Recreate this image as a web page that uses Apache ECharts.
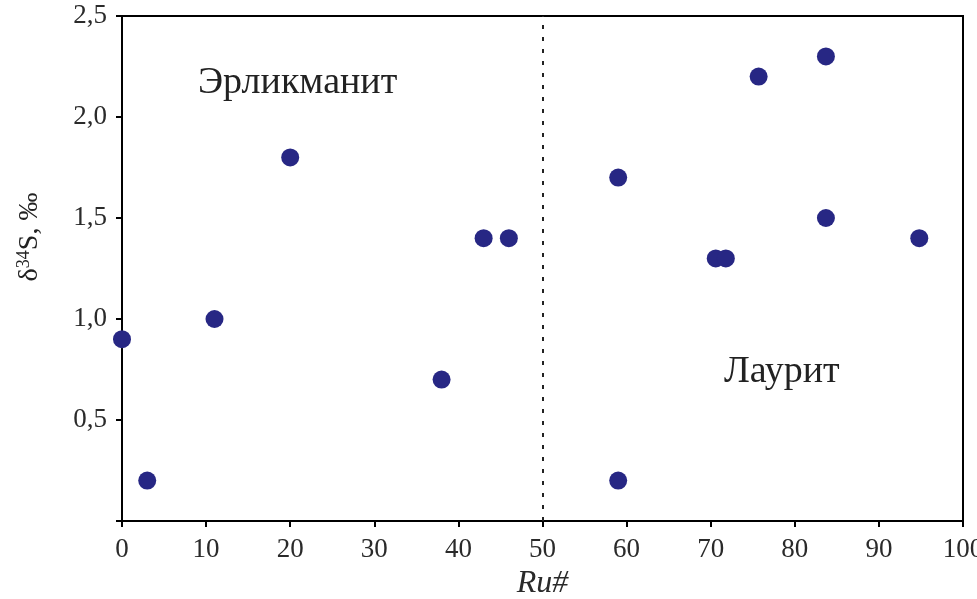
<!DOCTYPE html>
<html><head><meta charset="utf-8">
<script src="https://cdn.jsdelivr.net/npm/echarts@6/dist/echarts.min.js"></script>
<style>html,body{margin:0;padding:0;background:#fff}#c{width:977px;height:599px}</style>
</head><body><div id="c"></div>
<script>
const ruNumber = [0, 3, 11, 20, 38, 43, 46, 59, 59, 70.6, 71.8, 75.7, 83.7, 83.7, 94.8];
const delta34S = [0.9, 0.2, 1.0, 1.8, 0.7, 1.4, 1.4, 1.7, 0.2, 1.3, 1.3, 2.2, 2.3, 1.5, 1.4];
const boundaryX = 50;
const xTicks = [0,10,20,30,40,50,60,70,80,90,100];
const yTicks = ['0,5','1,0','1,5','2,0','2,5'];
const labelLeft = 'Эрликманит';
const labelRight = 'Лаурит';

const chart = echarts.init(document.getElementById('c'));
const serif = '"Liberation Serif","DejaVu Serif",serif';
const points = ruNumber.map((x,i)=>[x, delta34S[i]]);
chart.setOption({
  animation:false,
  grid:{left:122,right:14,top:16,bottom:78,show:true,borderColor:'#000',borderWidth:2,outerBoundsMode:'none',containLabel:false},
  xAxis:{type:'value',min:0,max:100,interval:10,
    axisLine:{show:true,onZero:false,lineStyle:{color:'#000',width:2}},
    axisTick:{show:true,length:6,lineStyle:{color:'#000',width:2}},
    splitLine:{show:false},
    axisLabel:{color:'#2a2a2a',fontFamily:serif,fontSize:27,margin:15,
      formatter:v=>String(xTicks[Math.round(v/10)])},
    name:'Ru#',nameLocation:'middle',nameGap:43,
    nameTextStyle:{color:'#2a2a2a',fontFamily:serif,fontSize:32,fontStyle:'italic'}},
  yAxis:{type:'value',min:0,max:2.5,interval:0.5,
    axisLine:{show:true,lineStyle:{color:'#000',width:2}},
    axisTick:{show:true,length:6,lineStyle:{color:'#000',width:2}},
    splitLine:{show:false},
    axisLabel:{color:'#2a2a2a',fontFamily:serif,fontSize:27,margin:15,
      formatter:v=>{const i=Math.round(v/0.5)-1;return i>=0?yTicks[i]:'';}}},
  series:[{type:'scatter',data:points,symbolSize:18,itemStyle:{color:'#272784',opacity:1},
    markLine:{silent:true,symbol:'none',label:{show:false},
      lineStyle:{color:'#222',type:[4,8],width:2},data:[{xAxis:boundaryX}]}}],
  graphic:[
    {type:'text',left:198,top:64,style:{text:labelLeft,font:'38px '+serif,fill:'#222'}},
    {type:'text',left:724,top:353,style:{text:labelRight,font:'38px '+serif,fill:'#222'}},
    {type:'text',x:30,y:237,rotation:Math.PI/2,
      style:{text:'{d|δ}{s|34}{d|S, ‰}',align:'center',verticalAlign:'middle',
        rich:{d:{fontFamily:serif,fontSize:28,fill:'#222'},s:{fontFamily:serif,fontSize:18,fill:'#222',verticalAlign:'top',padding:[0,0,11,0]}}}}
  ]
});
</script></body></html>
